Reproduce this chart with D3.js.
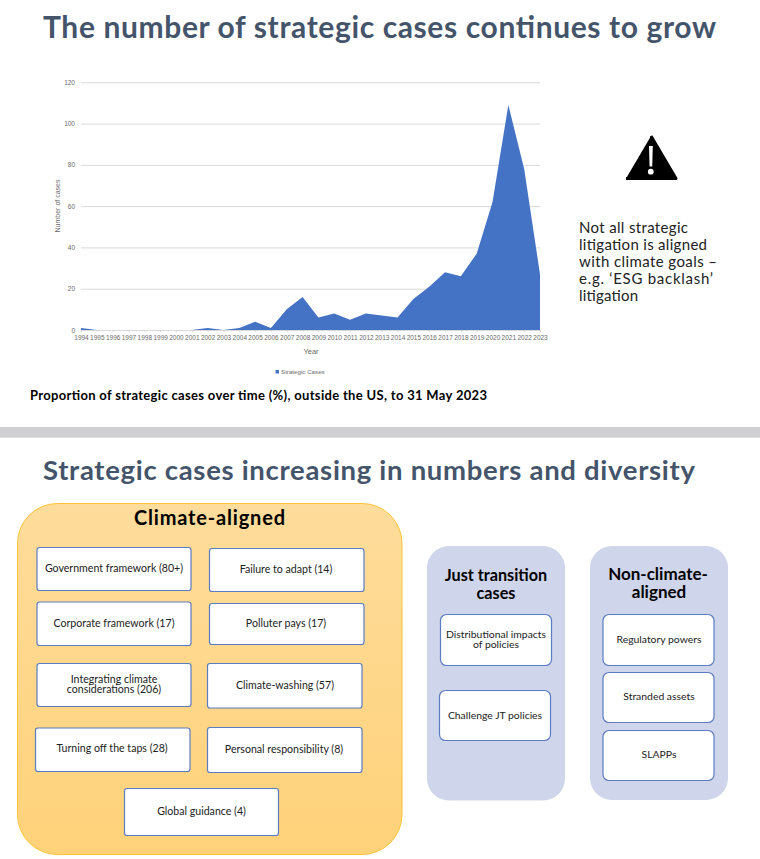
<!DOCTYPE html>
<html><head><meta charset="utf-8">
<script src="https://cdn.jsdelivr.net/npm/d3@7/dist/d3.min.js"></script>
<style>html,body{margin:0;padding:0;background:#fff}svg{display:block}</style>
</head><body><div id="c"></div>
<script>
const years = d3.range(1994, 2024);
const strategicCases = [1,0,0,0,0,0,0,0,1,0,1,4,1,10,16,6,8,5,8,7,6,15,21,28,26,37,62,109,78,27];
const yTicks = [0,20,40,60,80,100,120];
const climateAligned = ["Government framework (80+)","Failure to adapt (14)","Corporate framework (17)","Polluter pays (17)",["Integrating climate","considerations (206)"],"Climate-washing (57)","Turning off the taps (28)","Personal responsibility (8)","Global guidance (4)"];
const justTransition = [["Distributional impacts","of policies"],"Challenge JT policies"];
const nonClimate = ["Regulatory powers","Stranded assets","SLAPPs"];
const warningLines = ["Not all strategic","litigation is aligned","with climate goals –","e.g. ‘ESG backlash’","litigation"];

const FONT = "Lato, 'Open Sans', sans-serif";
const AXF = "'Liberation Sans',sans-serif";
const W = 760, H = 859;
const svg = d3.select("#c").append("svg").attr("width",W).attr("height",H).attr("viewBox",[0,0,W,H]);
svg.append("rect").attr("width",W).attr("height",H).attr("fill","#fff");

function fit(x,y,str,size,width,opts={}){
  const t = svg.append("text").attr("x",x).attr("y",y).text(str)
    .attr("font-family",FONT).attr("font-size",size)
    .attr("font-weight",opts.weight||400).attr("fill",opts.fill||"#000")
    .attr("text-anchor",opts.anchor||"start");
  if(width) t.attr("textLength",width).attr("lengthAdjust","spacing");
  return t;
}

// titles
fit(43,38,"The number of strategic cases continues to grow",30,673,{weight:700,fill:"#44546a"});
fit(43,480,"Strategic cases increasing in numbers and diversity",27.5,652,{weight:700,fill:"#44546a"});
fit(30,400,"Proportion of strategic cases over time (%), outside the US, to 31 May 2023",13,457,{weight:700});

// separator
svg.append("rect").attr("x",0).attr("y",427).attr("width",W).attr("height",10.7).attr("fill","#d0d0d2");

// chart
const x = d3.scalePoint().domain(years).range([81,540]);
const y = d3.scaleLinear().domain([0,120]).range([330,82.3]);
const TXT = "#6b6b6b";
const yAxis = d3.axisLeft(y).tickValues(yTicks).tickSize(-(540-81)).tickPadding(6);
const gy = svg.append("g").attr("transform","translate(81,0)").call(yAxis);
gy.select(".domain").remove();
gy.selectAll("line").attr("stroke","#d9d9d9").attr("stroke-width",1);
gy.selectAll("text").attr("fill",TXT).attr("font-family",AXF).attr("font-size",6.5);

const area = d3.area().x((d,i)=>x(years[i])).y0(y(0)).y1(d=>y(d));
svg.append("path").datum(strategicCases).attr("d",area).attr("fill","#4472c4");

const xAxis = d3.axisBottom(x).tickSize(2).tickPadding(3).tickFormat(d3.format("d"));
const gx = svg.append("g").attr("transform","translate(0,330)").call(xAxis);
gx.select(".domain").attr("stroke","#d9d9d9");
gx.selectAll("line").attr("stroke","#d9d9d9");
gx.selectAll("text").attr("fill",TXT).attr("font-family",AXF).attr("font-size",6.5);

svg.append("text").attr("x",311).attr("y",354).attr("text-anchor","middle").attr("font-family",AXF).attr("font-size",7.5).attr("fill",TXT).text("Year");
svg.append("text").attr("transform","translate(59.5,206) rotate(-90)").attr("text-anchor","middle")
  .attr("font-family",AXF).attr("font-size",7).attr("fill",TXT).text("Number of cases");
svg.append("rect").attr("x",275.5).attr("y",370).attr("width",3.5).attr("height",3.5).attr("fill","#4472c4");
svg.append("text").attr("x",281).attr("y",374.3).attr("font-family",AXF).attr("font-size",6.2).attr("fill",TXT).text("Strategic Cases");

// warning icon
const tri = d3.line()([[651,136],[676,178.5],[626,178.5]]);
svg.append("path").attr("d",tri).attr("fill","#000").attr("stroke","#000").attr("stroke-width",3).attr("stroke-linejoin","round");
svg.append("path").attr("d",d3.line()([[649,146],[652.8,146],[652.2,166.5],[649.6,166.5]])).attr("fill","#fff");
svg.append("circle").attr("cx",650.8).attr("cy",171.7).attr("r",2.9).attr("fill","#fff");

// warning text
const warnW = [109,128,138,134,59];
warningLines.forEach((s,i)=>fit(579,233+i*17,s,15,warnW[i],{fill:"#222"}));

// panels
function panel(x0,x1,y0,y1,r,fill,stroke){
  return svg.append("rect").attr("x",x0).attr("y",y0).attr("width",x1-x0).attr("height",y1-y0).attr("rx",r)
    .attr("fill",fill).attr("stroke",stroke||"none");
}
const grad = svg.append("defs").append("linearGradient").attr("id","g").attr("x1",0).attr("y1",0).attr("x2",0).attr("y2",1);
grad.append("stop").attr("offset",0).attr("stop-color","#fedc9b");
grad.append("stop").attr("offset",1).attr("stop-color","#ffd27a");
panel(17.5,402,503.5,854.5,40,"url(#g)","#fcc433");
panel(427,565,546,800.5,22,"#cfd5ea");
panel(590,728,546,800,22,"#cfd5ea");

// panel headings
fit(134,525,"Climate-aligned",20,151,{weight:700});
fit(496,581,"Just transition",16.2,null,{weight:700,anchor:"middle"});
fit(496,599,"cases",16.2,null,{weight:700,anchor:"middle"});
fit(658,580,"Non-climate-",17,null,{weight:700,anchor:"middle"});
fit(659,598,"aligned",17,null,{weight:700,anchor:"middle"});

// boxes
const climateBoxes = [[37,191,547.5,590.5],[209.5,364,548.5,591.5],[37,191,602,645.5],[209.5,364,603.5,644.5],[37,191,663.5,706.5],[207.5,362,663.5,708],[35.5,190,728,771.5],[207.5,362,727.5,772.5],[124.5,278.5,788.5,835.5]];
const climateTextY = [572,573,627,627,[683,693],689,752,753,815];
const climateTextCx = [114,286,114,286,114,285,112,284,201.5];
const jtBoxes = [[440.5,551.5,614.5,665.5],[439.5,550.5,690.5,740.5]];
const jtTextY = [[638,648],719];
const jtTextCx = [496,495];
const ncBoxes = [[603,714,614.5,665.5],[603,714,672.5,722.5],[603,714,730.5,780.5]];
const ncTextY = [643,700,758];
const ncTextCx = [659,659,659];

function boxes(labels,rects,ys,cxs,r,size){
  labels.forEach((lab,i)=>{
    const [a,b,c,d]=rects[i];
    panel(a,b,c,d,r,"#fff","#5b7cc0").attr("stroke-width",1.2);
    const lines=Array.isArray(lab)?lab:[lab];
    const yy=Array.isArray(ys[i])?ys[i]:[ys[i]];
    lines.forEach((s,j)=>fit(cxs[i],yy[j],s,size,null,{anchor:"middle",fill:"#222"}));
  });
}
boxes(climateAligned,climateBoxes,climateTextY,climateTextCx,2.5,10.6);
boxes(justTransition,jtBoxes,jtTextY,jtTextCx,6,10.4);
boxes(nonClimate,ncBoxes,ncTextY,ncTextCx,6,10.4);
</script></body></html>
